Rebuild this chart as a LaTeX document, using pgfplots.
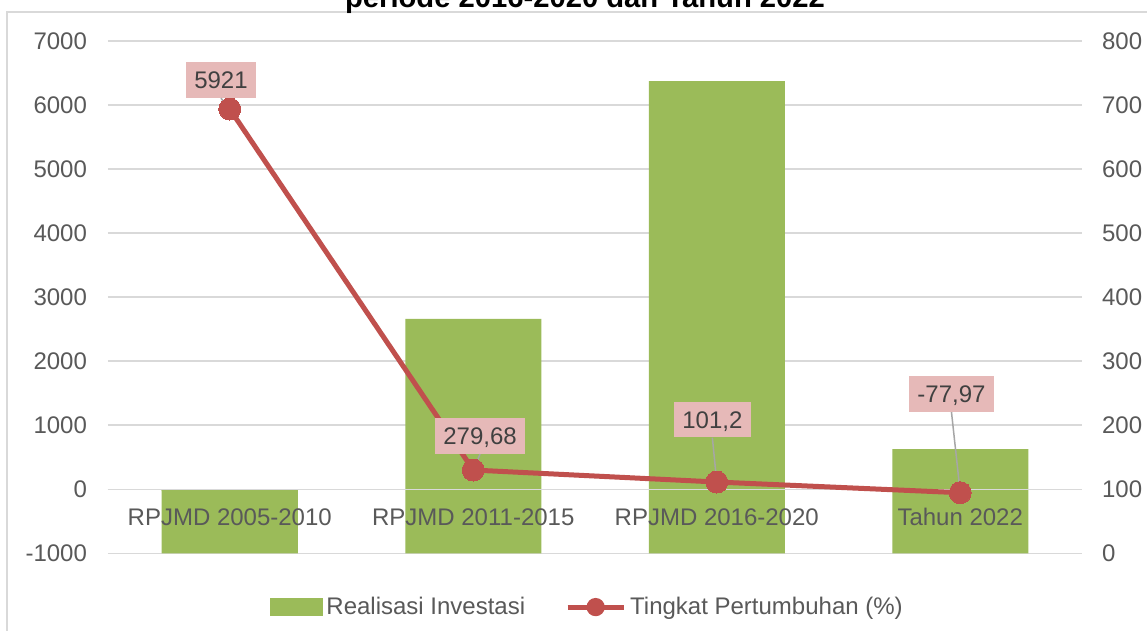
\documentclass[border=0pt]{standalone}
\usepackage{pgfplots}
\pgfplotsset{compat=1.18}
\usepackage{fontspec}
\setmainfont{Liberation Sans}
\definecolor{barg}{HTML}{9BBB59}
\definecolor{liner}{HTML}{C0504D}
\definecolor{lblpink}{HTML}{E6B9B8}
\definecolor{gridg}{HTML}{D9D9D9}
\definecolor{txtg}{HTML}{595959}
\definecolor{lbltxt}{HTML}{404040}
\definecolor{leader}{HTML}{A6A6A6}
\newcommand{\lblfont}{\fontsize{12}{14}\selectfont}
\begin{document}
\begin{tikzpicture}
\clip (0,0) rectangle (573.5pt,315.5pt);
\fill[white] (0,0) rectangle (573.5pt,315.5pt);
\draw[gridg, line width=1pt] (3.65pt,-10pt) -- (3.65pt,309.6pt) -- (600pt,309.6pt);
\node[anchor=base, inner sep=0pt, font=\fontsize{14.6}{17}\selectfont\bfseries] at (292.5pt,311.5pt) {periode 2016-2020 dan Tahun 2022};
\begin{axis}[
  at={(54pt,38.85pt)}, anchor=south west,
  scale only axis, width=487pt, height=256.15pt,
  xmin=-0.5, xmax=3.5, ymin=-1000, ymax=7000,
  ytick={-1000,0,1000,2000,3000,4000,5000,6000,7000},
  xtick=\empty,
  yticklabel style={font=\lblfont, text=txtg, xshift=-7pt},
  /pgf/number format/assume math mode=true,
  /pgf/number format/1000 sep={},
  axis line style={draw=none},
  major tick length=0pt,
  ymajorgrids, grid style={gridg, line width=0.75pt},
]
\addplot[ybar, bar width=68pt, bar shift=0pt, fill=barg, draw=none, forget plot] coordinates {(0,-1000) (1,-1000) (2,-1000) (3,-1000)};
\addplot[ybar, bar width=68pt, bar shift=0pt, fill=barg, draw=none] coordinates {(0,-30) (1,2659) (2,6375) (3,625)};
\draw[gridg, line width=0.75pt] (axis cs:-0.5,0) -- (axis cs:3.5,0);
\end{axis}
\begin{axis}[
  at={(54pt,38.85pt)}, anchor=south west,
  scale only axis, width=487pt, height=256.15pt,
  xmin=-0.5, xmax=3.5, ymin=0, ymax=800,
  ytick={0,100,200,300,400,500,600,700,800},
  xtick={0,1,2,3},
  xticklabels={RPJMD 2005-2010, RPJMD 2011-2015, RPJMD 2016-2020, Tahun 2022},
  xticklabel style={anchor=base, yshift=13.8pt, font=\lblfont, text=txtg},
  axis y line*=right, axis x line*=bottom,
  axis line style={draw=none},
  major tick length=0pt,
  yticklabel style={font=\lblfont, text=txtg, xshift=6.5pt},
  /pgf/number format/assume math mode=true,
  legend columns=2,
  legend cell align=left,
  legend style={at={(0.493,-0.105)}, anchor=center, draw=none, fill=none,
    font=\lblfont, text=txtg,
    /tikz/every even column/.append style={column sep=18pt}},
]
\addlegendimage{legend image code/.code={\fill[barg] (0pt,-4.1pt) rectangle (26pt,4.1pt);}}
\addlegendentry{Realisasi Investasi}
\addplot[liner, line width=2.5pt, mark=*, mark size=5.5pt,
  mark options={fill=liner, draw=liner, line width=0pt},
  legend image code/.code={\draw[liner, line width=2.5pt] (0pt,0pt) -- (28pt,0pt); \fill[liner] (14pt,0pt) circle (3.3pt);}]
  coordinates {(0,693.8) (1,130) (2,111.3) (3,94.6)};
\addlegendentry{Tingkat Pertumbuhan (\%)}
\node[fill=lblpink, text=lbltxt, font=\lblfont, minimum height=17.7pt, text height=8.6pt, text depth=0pt, inner xsep=4.3pt] (l1) at (axis cs:-0.036,739) {5921};
\node[fill=lblpink, text=lbltxt, font=\lblfont, minimum height=17.7pt, text height=8.6pt, text depth=0pt, inner xsep=4.3pt] (l2) at (axis cs:1.028,183.2) {279,68};
\node[fill=lblpink, text=lbltxt, font=\lblfont, minimum height=17.7pt, text height=8.6pt, text depth=0pt, inner xsep=4.3pt] (l3) at (axis cs:1.982,208.8) {101,2};
\node[fill=lblpink, text=lbltxt, font=\lblfont, minimum height=17.7pt, text height=8.6pt, text depth=0pt, inner xsep=4.3pt] (l4) at (axis cs:2.964,248.7) {-77,97};
\draw[leader, line width=0.75pt] (l1.south) -- (axis cs:0,693.8);
\draw[leader, line width=0.75pt] (l2.south) -- (axis cs:1,130);
\draw[leader, line width=0.75pt] (l3.south) -- (axis cs:2,111.3);
\draw[leader, line width=0.75pt] (l4.south) -- (axis cs:3,94.6);
\end{axis}
\end{tikzpicture}
\end{document}
